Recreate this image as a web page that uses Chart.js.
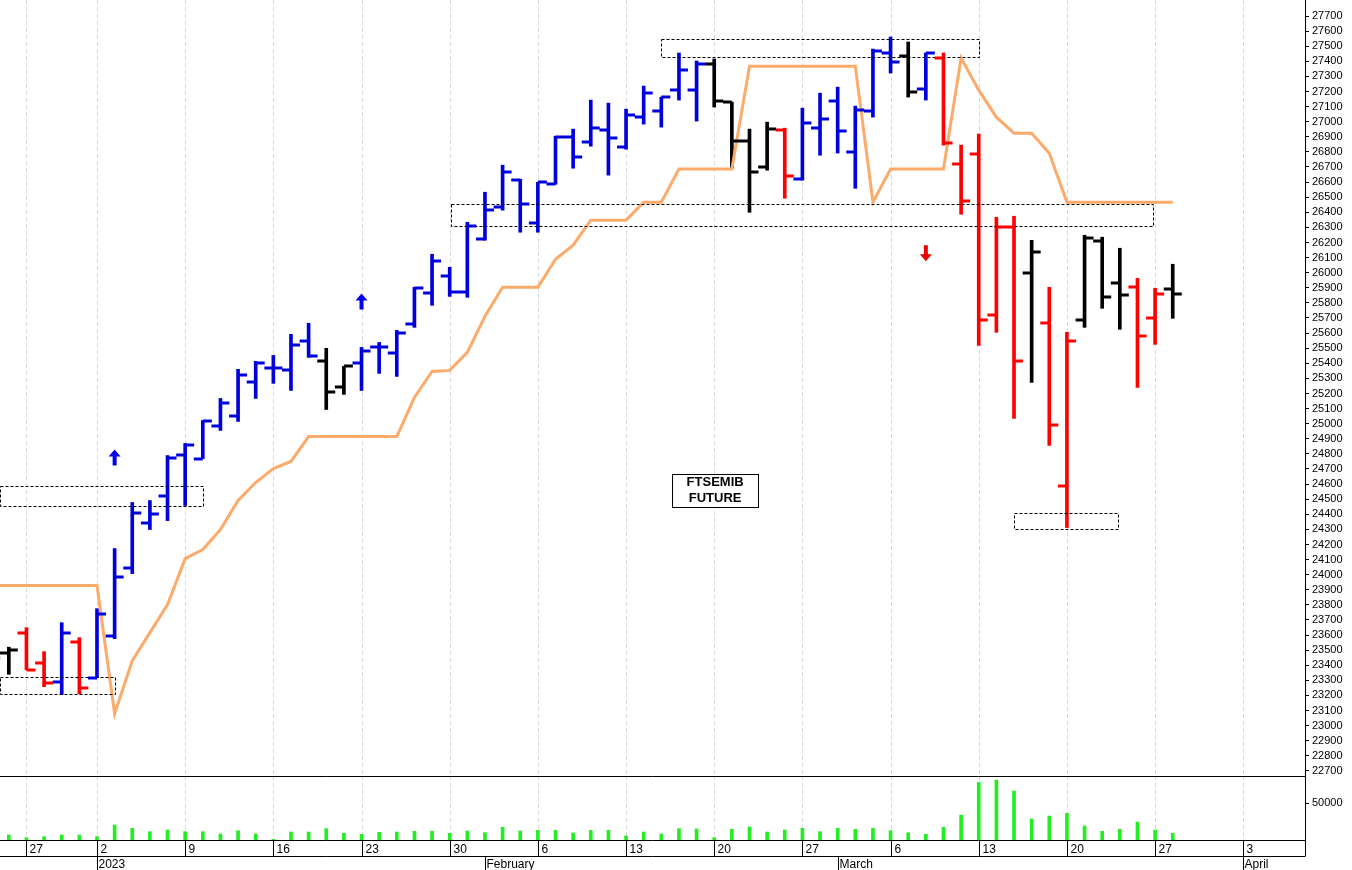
<!DOCTYPE html>
<html><head><meta charset="utf-8">
<script src="https://cdn.jsdelivr.net/npm/chart.js@4"></script>
<style>
html,body{margin:0;padding:0;background:#fff;overflow:hidden}
#w1{position:absolute;left:0;top:0;width:1352px;height:777px}
#w2{position:absolute;left:0;top:776px;width:1352px;height:94px}
</style></head><body>
<div id="w1"><canvas id="c1"></canvas></div>
<div id="w2"><canvas id="c2"></canvas></div>
<script>
// trading days Dec 22 2022 .. Mar 28 2023, index 0 = Jan 2
const dates = ["Dec 22","Dec 23","Dec 27","Dec 28","Dec 29","Dec 30",
"Jan 2","Jan 3","Jan 4","Jan 5","Jan 6","Jan 9","Jan 10","Jan 11","Jan 12","Jan 13",
"Jan 16","Jan 17","Jan 18","Jan 19","Jan 20","Jan 23","Jan 24","Jan 25","Jan 26","Jan 27","Jan 30","Jan 31",
"Feb 1","Feb 2","Feb 3","Feb 6","Feb 7","Feb 8","Feb 9","Feb 10","Feb 13","Feb 14","Feb 15","Feb 16","Feb 17",
"Feb 20","Feb 21","Feb 22","Feb 23","Feb 24","Feb 27","Feb 28",
"Mar 1","Mar 2","Mar 3","Mar 6","Mar 7","Mar 8","Mar 9","Mar 10","Mar 13","Mar 14","Mar 15","Mar 16","Mar 17",
"Mar 20","Mar 21","Mar 22","Mar 23","Mar 24","Mar 27","Mar 28"];
const firstIndex = -6;
const opens  = [23400, 23480,23616,23417,23291,23556, 23318,23596,24047,24345,24518, 24790,24769,24982,25050,25273,
 25366,25353,25545,25413,25240, 25399,25505,25466,25658,25863, 25976,25870,
 26221,26434,26613, 26327,26586,26898,26865,26944, 26831,27030,27070,27209,27209,
 27382,27130,26871,26699,26944, 26619,26957, 27136,26798,27070, 27455,27435,27216,27422,26719,
 26785,25718,26301,25996,25665, 24590,25684,26208,25930,25903, 25698,25890];
const highs  = [23520, 23520,23649,23490,23682,23583, 23775,24173,24478,24491,24789, 24869,25021,25167,25360,25413,
 25452,25592,25665,25499,25379, 25505,25538,25618,25903,26122, 26036,26334,
 26533,26712,26619, 26599,26904,26951,27143,27123, 27083,27236,27163,27455,27402,
 27415,27130,26951,26997,26957, 27090,27189, 27229,27103,27481, 27561,27528,27455,27455,26845,
 26918,26367,26374,26215,25903, 25605,26248,26235,26162,25963, 25897,26056];
const lows   = [23360, 23340,23370,23258,23205,23211, 23318,23576,24007,24299,24358, 24458,24769,24955,25015,25167,
 25267,25220,25439,25094,25194, 25220,25333,25313,25638,25784, 25843,25837,
 26215,26414,26268, 26268,26586,26692,26838,26646, 26818,26984,26964,27143,27004,
 27097,26692,26400,26679,26493, 26613,26778, 26792,26559,27030, 27322,27163,27143,26845,26387,
 25519,25605,25035,25273,24856, 24312,25638,25764,25625,25240, 25525,25698];
const closes = [23450, 23500,23370,23284,23616,23251, 23742,23987,24411,24405,24776, 24856,25021,25134,25320,25399,
 25366,25519,25446,25207,25379, 25479,25505,25598,25897,26076, 25870,26308,
 26414,26666,26454, 26599,26898,26765,26957,26891, 27044,27189,27163,27342,27382,
 27136,26871,26666,26951,26639, 26991,27017, 26937,27077,27468, 27395,27196,27455,26858,26473,
 25684,26301,25413,26135,24988, 25545,26228,25837,25850,25578, 25857,25857];
const barColors = ["k", "k","r","r","b","r", "b","b","b","b","b", "b","b","b","b","b",
 "b","b","b","k","k", "b","b","b","b","b", "b","b",
 "b","b","b", "b","b","b","b","b", "b","b","b","b","b",
 "k","k","k","k","r", "b","b", "b","b","b", "b","k","b","r","r",
 "r","r","r","k","r", "r","k","k","k","r", "r","k"];
const stopLine = [23928, 23928,23928,23928,23928,23928, 23928,23079,23430,23616,23802, 24106,24166,24299,24491,24610,
 24703,24750,24915,24915,24915, 24915,24915,24915,25174,25346, 25353,25472,
 25711,25903,25903, 25903,26089,26182,26348,26348, 26348,26467,26467,26686,26686,
 26686,26686,27368,27368,27368, 27368,27368, 27368,27368,26467, 26686,26686,26686,26686,27421,
 27209,27030,26924,26924,26791, 26467,26467,26467,26467,26467, 26467,26467];
const volumes = [6000, 6750,3150,4500,6750,6750, 4500,20250,15750,11250,13500, 11250,11250,8100,12600,8100,
 900,10800,10800,15300,9000, 7650,10350,10800,11700,11700, 9000,12150,
 9900,17100,12150, 13050,13050,9450,13050,13050, 5400,10800,8100,15300,14850,
 3150,14400,17550,10800,13500, 15750,11250, 15750,14400,15750, 12600,9900,7650,17100,33750,
 77850,81000,66150,28350,32400, 36000,18900,11700,14400,24300, 13500,9000];
const weekTickIdx = [-4,0,5,10,15,20,25,30,35,40,45,50,55,60,65];
const weekTickLabels = ["27","2","9","16","23","30","6","13","20","27","6","13","20","27","3"];
const monthIdx = [0,22,42,65];
const monthLabels = ["2023","February","March","April"];
const boxes = [ // [x0,x1,yLow,yHigh] in index/price units
 [-5.5,6.0,24458,24590],[-5.5,1.0,23211,23324],[20.1,59.9,26308,26454],[32.0,50.0,27428,27547],[52.0,57.9,24305,24411]];
const arrows = [[1,24776,"up","#0000ee"],[15,25810,"up","#0000ee"],[47,26129,"down","#ee0000"]];
const titleLines = ["FTSEMIB","FUTURE"];
const titlePos = [35.05,24556];

const COL = {b:"#0000dd", r:"#ff0000", k:"#000000"};
const xs = dates.map((d,i)=>i+firstIndex);
const XMIN=-5.5, XMAX=68.5;
const FONT = '"Liberation Sans", Arial, sans-serif';

function fixRight(w){ return function(s){ s.width = w; s.paddingTop=0; s.paddingBottom=0; }; }

const gridPlugin = {
  id:'vgrid',
  beforeDatasetsDraw(ch){
    const c=ch.ctx, x=ch.scales.x, a=ch.chartArea;
    c.save(); c.strokeStyle="#d8d8d8"; c.lineWidth=1; c.setLineDash([4,3]);
    weekTickIdx.forEach(i=>{const px=Math.round(x.getPixelForValue(i))+0.5;
      c.beginPath(); c.moveTo(px,a.top); c.lineTo(px,a.bottom); c.stroke();});
    c.restore();
  }
};

const ohlcPlugin = {
  id:'ohlc',
  afterDatasetsDraw(ch){
    const c=ch.ctx, x=ch.scales.x, y=ch.scales.y, a=ch.chartArea;
    c.save();
    c.beginPath(); c.rect(a.left,0,a.right-a.left,ch.height); c.clip();
    c.strokeStyle="#000"; c.lineWidth=1; c.setLineDash([3,2]);
    boxes.forEach(b=>{
      const x0=Math.round(x.getPixelForValue(b[0]))+0.5, x1=Math.round(x.getPixelForValue(b[1]))+0.5;
      const y0=Math.round(y.getPixelForValue(b[3]))+0.5, y1=Math.round(y.getPixelForValue(b[2]))+0.5;
      c.strokeRect(x0,y0,x1-x0,y1-y0);
    });
    c.setLineDash([]);
    c.lineWidth=3;
    xs.forEach((xi,k)=>{
      const px=x.getPixelForValue(xi);
      c.strokeStyle=COL[barColors[k]];
      const po=Math.round(y.getPixelForValue(opens[k])), pc=Math.round(y.getPixelForValue(closes[k]));
      c.beginPath(); c.moveTo(px-9,po); c.lineTo(px,po); c.stroke();
      c.beginPath(); c.moveTo(px,pc); c.lineTo(px+9,pc); c.stroke();
    });
    arrows.forEach(a=>{
      const px=x.getPixelForValue(a[0]), py=y.getPixelForValue(a[1]);
      c.fillStyle=a[3]; c.beginPath();
      const s = a[2]==="up"?-1:1;
      c.moveTo(px, py+s*8); c.lineTo(px-6,py+s*1); c.lineTo(px-2,py+s*1); c.lineTo(px-2,py-s*8);
      c.lineTo(px+2,py-s*8); c.lineTo(px+2,py+s*1); c.lineTo(px+6,py+s*1); c.closePath(); c.fill();
    });
    const tx=x.getPixelForValue(titlePos[0]), ty=y.getPixelForValue(titlePos[1]);
    c.font='bold 13px '+FONT; c.textAlign='center'; c.textBaseline='middle';
    const w=86, h=33;
    c.fillStyle='#fff'; c.fillRect(tx-w/2,ty-h/2,w,h);
    c.strokeStyle='#000'; c.lineWidth=1; c.strokeRect(Math.round(tx-w/2)+0.5,Math.round(ty-h/2)+0.5,w,h);
    c.fillStyle='#000'; c.fillText(titleLines[0],tx,ty-8); c.fillText(titleLines[1],tx,ty+8);
    c.restore();
    c.save();
    c.strokeStyle='#000'; c.lineWidth=1;
    const ax=Math.round(a.right)+0.5;
    c.beginPath(); c.moveTo(ax,0); c.lineTo(ax,ch.height); c.stroke();
    c.restore();
  }
};

new Chart(document.getElementById('c1'),{
  data:{datasets:[
    {type:'bar', data:xs.map((xi,k)=>({x:xi,y:[lows[k],highs[k]]})),
     backgroundColor:barColors.map(k=>COL[k]), barThickness:3, grouped:false, order:2},
    {type:'line', data:xs.map((xi,k)=>({x:xi,y:stopLine[k]})), borderColor:'#fdaa6a',
     borderWidth:3, pointRadius:0, tension:0, order:1}
  ]},
  options:{animation:false, responsive:true, maintainAspectRatio:false,
    layout:{padding:0},
    plugins:{legend:{display:false}, tooltip:{enabled:false}},
    scales:{
      x:{type:'linear', min:XMIN, max:XMAX, display:false, offset:false},
      y:{position:'right', min:22660, max:27806, afterFit:fixRight(47),
         afterBuildTicks(s){ const t=[]; for(let v=22700;v<=27700;v+=100) t.push({value:v}); s.ticks=t; },
         grid:{drawOnChartArea:false, tickLength:4, color:'#000'}, border:{display:true,color:'#000'},
         ticks:{color:'#000', font:{family:FONT,size:11}, padding:3, autoSkip:false, callback:v=>String(v)}}
    }},
  plugins:[gridPlugin, ohlcPlugin]
});

const volAxisPlugin = {
  id:'volaxis',
  afterDraw(ch){
    const c=ch.ctx, x=ch.scales.x, a=ch.chartArea;
    c.save(); c.strokeStyle='#000'; c.lineWidth=1;
    const top=0.5, base=Math.round(a.bottom)+0.5, sep=base+16;
    c.beginPath(); c.moveTo(0,top); c.lineTo(a.right,top); c.stroke();
    c.beginPath(); c.moveTo(0,base); c.lineTo(a.right,base); c.stroke();
    c.beginPath(); c.moveTo(0,sep); c.lineTo(a.right,sep); c.stroke();
    const ax=Math.round(a.right)+0.5;
    c.beginPath(); c.moveTo(ax,0); c.lineTo(ax,sep); c.stroke();
    c.font='12px '+FONT; c.fillStyle='#000'; c.textBaseline='middle'; c.textAlign='left';
    weekTickIdx.forEach((i,k)=>{
      const px=Math.round(x.getPixelForValue(i))+0.5;
      c.beginPath(); c.moveTo(px,base); c.lineTo(px,sep); c.stroke();
      c.fillText(weekTickLabels[k], px+3, base+9);
    });
    monthIdx.forEach((i,k)=>{
      const px=Math.round(x.getPixelForValue(i))+0.5;
      c.beginPath(); c.moveTo(px,sep); c.lineTo(px,ch.height); c.stroke();
      c.fillText(monthLabels[k], px+1, sep+8);
    });
    c.restore();
  }
};

new Chart(document.getElementById('c2'),{
  type:'bar',
  data:{datasets:[{data:xs.map((xi,k)=>({x:xi,y:volumes[k]})), backgroundColor:'#22ee22', barThickness:3}]},
  options:{animation:false, responsive:true, maintainAspectRatio:false,
    layout:{padding:{bottom:30}},
    plugins:{legend:{display:false}, tooltip:{enabled:false}},
    scales:{
      x:{type:'linear', min:XMIN, max:XMAX, display:false, offset:false},
      y:{position:'right', min:0, max:86500, afterFit:fixRight(47),
         afterBuildTicks(s){ s.ticks=[{value:50000}]; },
         grid:{drawOnChartArea:false, tickLength:4, color:'#000'}, border:{display:true,color:'#000'},
         ticks:{color:'#000', font:{family:FONT,size:11}, padding:3, callback:v=>String(v)}}
    }},
  plugins:[gridPlugin, volAxisPlugin]
});
</script></body></html>
